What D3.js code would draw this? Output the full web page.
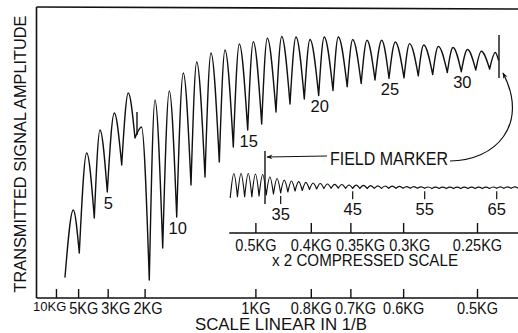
<!DOCTYPE html>
<html><head><meta charset="utf-8">
<script src="https://cdn.jsdelivr.net/npm/d3@7"></script>
<style>
html,body{margin:0;padding:0;background:#fff;}
svg{display:block;}
text{font-family:"Liberation Sans",Arial,sans-serif;fill:#111;}
</style></head><body>
<svg id="c" width="518" height="333"></svg>
<script>
// ---------- data (x in 1/B, 1/kG ; amplitude in arbitrary units) ----------
const mainStart = {invB: 0.1408, amp: 20};
const mainEnd   = {invB: 2.0970, amp: 237};
const peakInvB = [0.1782,0.2387,0.2987,0.3633,0.4264,0.4860,0.5469,0.6115,0.6746,0.7351,0.7996,0.8628,0.9274,0.9905,1.0537,1.1187,1.1832,1.2464,1.3105,1.3741,1.4391,1.5036,1.5699,1.6313,1.6959,1.7595,1.8254,1.8917,1.9571,2.0194,2.0826];
const peakAmp  = [87,144,167,184,204,170,197,206,224,235,244,247,253,255.3,258.7,260.5,260,257.5,260,260,257.5,256.7,256.7,255,253.4,252,250.6,249.5,247.5,245.7,244.5];
const troughNum  = [3,4,5,6,7,8,9,10,11,12,13,14,15,16,17,18,19,20,21,22,23,24,25,26,27,28,29,30,31,32];
const troughInvB = [0.2053,0.2730,0.3317,0.3967,0.4567,0.5212,0.5817,0.6449,0.7094,0.7726,0.8371,0.9003,0.9653,1.0284,1.0930,1.1561,1.2207,1.2856,1.3502,1.4143,1.4774,1.5397,1.6029,1.6706,1.7351,1.8001,1.8660,1.9292,1.9946,2.0569];
const troughAmp  = [44,79,105,132,159,17,49,80,112,120,135,150,167,173,185,193,198,201.5,206.5,210.3,213.5,217,218.7,219.2,221.2,222.5,224.5,225.3,227,228];
const curveLabelNum = [5,10,15,20,25,30];

const spikeMarker = {invB: 0.4657, ampLo: 162, ampHi: 185};
const mainMarker  = {invB: 2.0993, ampLo: 219, ampHi: 262};
const insetMarker = {invB: 2.0866, ampLo: 93,  ampHi: 146};   // on the x2 compressed scale

// inset (x2 compressed scale), indexed by oscillation number
const insetIdxCalib = [35, 65];          // oscillation numbers ...
const insetInvBCalib = [2.228, 4.178];   // ... and their 1/B positions
const insetTroughIdx = [28,29,30,31,32,33,34,35,36,37,38,39,40,41,42,43,44,45,46,47,48,49,50,51,52,53,54,55,56,57,58,59,60,61,62,63,64,65,66,67,68];
const insetTroughAmp = [99.5,100.3,100.3,100.3,101,102,103,104,105,106,106.5,107.5,108,108.5,108.7,108.8,108.7,108.7,108.5,108.5,108.6,108.6,108.7,108.7,108.8,108.8,108.8,108.7,108.5,108.5,108.5,108.5,108.5,108.5,108.5,108.5,108.5,108.7,108.7,108.7,108.7];
const insetPeakIdx = [28.5,29.5,30.5,31.5,32.5,33.5,34.5,35.5,36.5,37.5,38.5,39.5,40.5,41.5,42.5,43.5,44.5,45.5,46.5,47.5,48.5,49.5,50.5,51.5,52.5,53.5,54.5,55.5,56.5,57.5,58.5,59.5,60.5,61.5,62.5,63.5,64.5,65.5,66.5,67.5];
const insetPeakAmp = [123.5,123.5,123.5,123,122.5,120,118.5,117,116,115.3,114.6,114,113.5,113,112.7,112.5,112,111.8,111.6,111.4,111.2,111,110.8,110.6,110.4,110.4,110.2,110,109.8,109.8,109.8,109.8,109.8,109.8,109.8,109.9,110,110.2,110.2,110.2];
const insetLabelIdx = [35,45,55,65];

const mainTickKG = [10,5,3,2,1,0.8,0.7,0.6,0.5];
const mainTickLabels = ["10KG","5KG","3KG","2KG","1KG","0.8KG","0.7KG","0.6KG","0.5KG"];
const compTickKG = [0.5,0.4,0.35,0.3,0.25];
const compTickLabels = ["0.5KG","0.4KG","0.35KG","0.3KG","0.25KG"];

// ---------- scales ----------
const W = 518, H = 333;
const x  = d3.scaleLinear().domain([0, 2.19]).range([33.8, 519.1]);
const xc = d3.scaleLinear().domain([0, 4.38]).range([33.8, 519.1]);
const y  = d3.scaleLinear().domain([0, 290]).range([297, 7]);
const idxToInvB = d3.scaleLinear().domain(insetIdxCalib).range(insetInvBCalib);
const leftX = 36.5, baseY = 298, compY = 233;

const svg = d3.select("#c");
const ink = "#111";

// defs: arrowhead
svg.append("defs").append("marker")
  .attr("id","ah").attr("viewBox","0 0 10 10").attr("refX",9).attr("refY",5)
  .attr("markerWidth",8).attr("markerHeight",6).attr("orient","auto").attr("markerUnits","userSpaceOnUse")
  .append("path").attr("d","M0,1 L10,5 L0,9 L3,5 Z").attr("fill",ink);

// ---------- frame ----------
svg.append("line").attr("x1",leftX).attr("y1",y(290)).attr("x2",W).attr("y2",y(288))
  .attr("stroke",ink).attr("stroke-width",1.6);
svg.append("line").attr("x1",leftX).attr("y1",y(290)).attr("x2",leftX).attr("y2",baseY)
  .attr("stroke",ink).attr("stroke-width",1.6);

// ---------- lobe drawer ----------
function lobes(points, gen){
  let d = "";
  for (let i = 0; i + 2 < points.length; i += 2) d += gen([points[i], points[i+1], points[i+2]]);
  return d;
}

// main curve
const mainPts = [mainStart];
peakInvB.forEach((u,i)=>{
  mainPts.push({invB:u, amp:peakAmp[i]});
  if (i < troughInvB.length) mainPts.push({invB:troughInvB[i], amp:troughAmp[i]});
});
mainPts.push(mainEnd);
const gMain = d3.line().x(d=>x(d.invB)).y(d=>y(d.amp)).curve(d3.curveMonotoneX);
svg.append("path").attr("d", lobes(mainPts, gMain)).attr("fill","none")
  .attr("stroke",ink).attr("stroke-width",1.4).attr("stroke-linecap","round").attr("stroke-linejoin","round");

// inset curve
const insetPts = [];
insetTroughIdx.forEach((k,i)=>{
  insetPts.push({idx:k, amp:insetTroughAmp[i]});
  if (i < insetPeakIdx.length) insetPts.push({idx:insetPeakIdx[i], amp:insetPeakAmp[i]});
});
const ix = k => xc(idxToInvB(k));
const gInset = d3.line().x(d=>ix(d.idx)).y(d=>y(d.amp)).curve(d3.curveMonotoneX);
svg.append("path").attr("d", lobes(insetPts, gInset)).attr("fill","none")
  .attr("stroke",ink).attr("stroke-width",1.2).attr("stroke-linecap","round").attr("stroke-linejoin","round");

// markers
[[x, spikeMarker],[x, mainMarker],[xc, insetMarker]].forEach(([s,m])=>{
  svg.append("line").attr("x1",s(m.invB)).attr("x2",s(m.invB))
    .attr("y1",y(m.ampHi)).attr("y2",y(m.ampLo)).attr("stroke",ink).attr("stroke-width",1.4);
});

// curve number labels (under troughs)
curveLabelNum.forEach(n=>{
  const i = troughNum.indexOf(n);
  svg.append("text").attr("x", x(troughInvB[i]) + 1).attr("y", y(troughAmp[i]) + 16.5)
    .attr("text-anchor","middle").attr("font-size",16.5).text(n);
});

// inset index ticks and labels
insetLabelIdx.forEach(k=>{
  const i = insetTroughIdx.indexOf(k);
  const px = ix(k), top = y(insetTroughAmp[i]) + 3;
  svg.append("line").attr("x1",px).attr("x2",px).attr("y1",top).attr("y2",top+8)
    .attr("stroke",ink).attr("stroke-width",1.2);
  svg.append("text").attr("x",px).attr("y",top+8+16).attr("text-anchor","middle")
    .attr("font-size",16.5).text(k);
});

// ---------- axes ----------
function fixLabels(g, gap, firstStart, firstFont){
  let prevRight = -Infinity;
  g.selectAll(".tick text").each(function(d,i){
    const t = d3.select(this);
    const tr = d3.select(this.parentNode).attr("transform");
    const tx = +/translate\(([-\d.]+)/.exec(tr)[1];
    const first = (i === 0 && firstStart !== null);
    if (first) t.attr("font-size", firstFont);
    const nat = this.getComputedTextLength();
    const w = first ? nat : nat * 0.88;
    if (!first) t.attr("textLength", w).attr("lengthAdjust","spacingAndGlyphs");
    let left = first ? firstStart : tx - w/2;
    if (left < prevRight + gap) left = prevRight + gap;
    t.attr("text-anchor","start").attr("x", left - tx);
    prevRight = left + w;
  });
}

const axMain = svg.append("g").attr("transform",`translate(0,${baseY})`)
  .call(d3.axisBottom(x).tickValues(mainTickKG.map(k=>1/k))
    .tickFormat((d,i)=>mainTickLabels[i]).tickSizeInner(-9).tickSizeOuter(0).tickPadding(4));
axMain.select(".domain").remove();
axMain.selectAll(".tick line").attr("stroke",ink).attr("stroke-width",1.4);
axMain.selectAll(".tick text").attr("font-size",16.5).attr("fill",ink)
  .attr("font-family",'"Liberation Sans",Arial,sans-serif');
fixLabels(axMain, 3, 33, 13);
svg.append("line").attr("x1",leftX).attr("x2",W).attr("y1",baseY).attr("y2",baseY)
  .attr("stroke",ink).attr("stroke-width",1.6);

const axComp = svg.append("g").attr("transform",`translate(0,${compY})`)
  .call(d3.axisBottom(xc).tickValues(compTickKG.map(k=>1/k))
    .tickFormat((d,i)=>compTickLabels[i]).tickSizeInner(-10).tickSizeOuter(0).tickPadding(6));
axComp.select(".domain").remove();
axComp.selectAll(".tick line").attr("stroke",ink).attr("stroke-width",1.4);
axComp.selectAll(".tick text").attr("font-size",16.5).attr("fill",ink)
  .attr("font-family",'"Liberation Sans",Arial,sans-serif');
fixLabels(axComp, 4, null, 0);
svg.append("line").attr("x1",ix(insetTroughIdx[0]) - 1).attr("x2",W).attr("y1",compY).attr("y2",compY)
  .attr("stroke",ink).attr("stroke-width",1.6);

// ---------- titles ----------
svg.append("text").attr("transform","translate(25.5,154) rotate(-90)").attr("text-anchor","middle")
  .attr("font-size",16.5).attr("textLength",277).attr("lengthAdjust","spacingAndGlyphs")
  .text("TRANSMITTED SIGNAL AMPLITUDE");
svg.append("text").attr("x",281).attr("y",330).attr("text-anchor","middle")
  .attr("font-size",16.5).attr("textLength",172).attr("lengthAdjust","spacingAndGlyphs")
  .text("SCALE LINEAR IN 1/B");
svg.append("text").attr("x",365).attr("y",266).attr("text-anchor","middle")
  .attr("font-size",16).attr("textLength",186).attr("lengthAdjust","spacingAndGlyphs")
  .text("x 2 COMPRESSED SCALE");

// field marker annotation
svg.append("text").attr("x",330).attr("y",165).attr("font-size",17.5)
  .attr("textLength",118).attr("lengthAdjust","spacingAndGlyphs").text("FIELD MARKER");
const lx = xc(insetMarker.invB) + 2;
svg.append("path").attr("d",`M327,156 L${lx},157`).attr("fill","none")
  .attr("stroke",ink).attr("stroke-width",1.2).attr("marker-end","url(#ah)");
const tipX = x(mainMarker.invB) + 4, tipY = y(mainMarker.ampLo) - 5;
svg.append("path").attr("d",`M450,161 C495,161 530,125 ${tipX},${tipY}`).attr("fill","none")
  .attr("stroke",ink).attr("stroke-width",1.2).attr("marker-end","url(#ah)");
</script>
</body></html>
